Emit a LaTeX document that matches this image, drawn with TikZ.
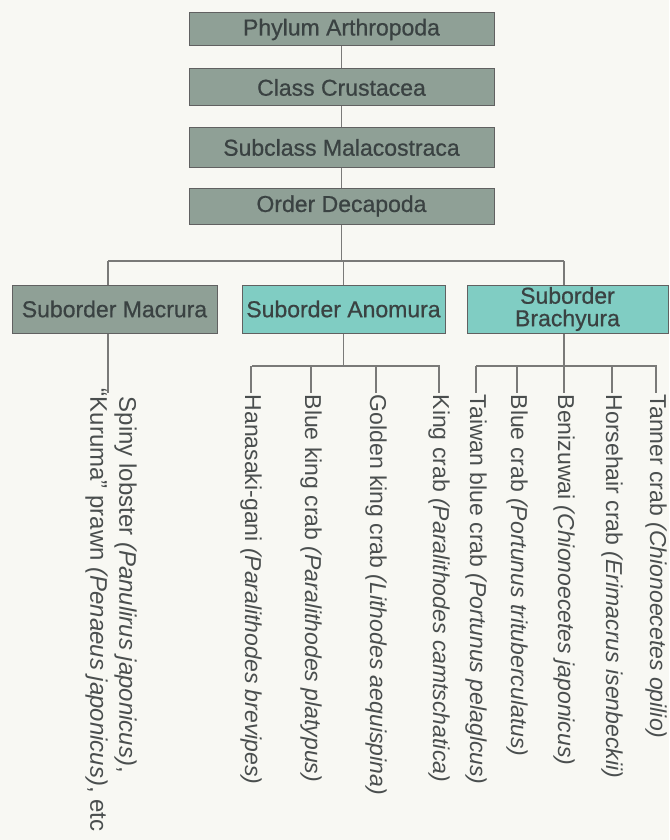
\documentclass[tikz,border=0pt]{standalone}
\usepackage{fontspec}
\setmainfont{Liberation Sans}
\newfontfamily\boxfont{Liberation Sans}[FakeBold=0.7]
\definecolor{boxgrey}{HTML}{8FA096}
\definecolor{boxteal}{HTML}{80CDC3}
\definecolor{txt}{HTML}{3A4242}
\definecolor{leaftxt}{HTML}{4A4E4E}
\definecolor{ln}{HTML}{7A7A78}
\definecolor{bg}{HTML}{F8F8F3}
\begin{document}
\begin{tikzpicture}[x=1pt,y=-1pt,
  box/.style={draw=black!62, line width=1pt, text=txt, font=\boxfont\fontsize{23}{22.5}\selectfont, inner sep=0pt, align=center},
  graybox/.style={box, fill=boxgrey},
  tealbox/.style={box, fill=boxteal},
  leaf/.style={rotate=-90, anchor=west, text=leaftxt, font=\fontsize{23}{28}\selectfont, inner sep=1.5pt, align=left},
  conn/.style={draw=ln, line width=1.1pt}]
\useasboundingbox[fill=bg] (0,0) rectangle (669,840);
% top chain
\node[graybox, minimum width=305pt, minimum height=33pt] (phy) at (341.5,29.5) {Phylum Arthropoda};
\node[graybox, minimum width=305pt, minimum height=37pt] (cls) at (341.5,87.5) {Class Crustacea};
\node[graybox, minimum width=305pt, minimum height=39pt] (sub) at (341.5,147.5) {Subclass Malacostraca};
\node[graybox, minimum width=305pt, minimum height=36pt] (ord) at (341.5,206) {Order Decapoda};
\draw[conn] (phy.south) -- (cls.north);
\draw[conn] (cls.south) -- (sub.north);
\draw[conn] (sub.south) -- (ord.north);
% suborders
\node[graybox, minimum width=205pt, minimum height=48pt] (mac) at (114.5,309) {Suborder Macrura};
\node[tealbox, minimum width=203pt, minimum height=48pt] (ano) at (343.5,309) {Suborder Anomura};
\node[tealbox, minimum width=201pt, minimum height=48pt] (bra) at (567.5,309) {Suborder\\Brachyura};
\coordinate (bL) at (108,261);
\coordinate (bR) at (564,261);
\draw[conn] (ord.south) -- (ord.south |- bL);
\draw[conn] (bL) -- (bR);
\draw[conn] (bL) -- (bL |- mac.north);
\draw[conn] (ano.north |- bL) -- (ano.north);
\draw[conn] (bR) -- (bR |- bra.north);
% Macrura leaf
\coordinate (mend) at (108,393);
\node[leaf, font=\fontsize{24}{29}\selectfont] (mq) at (111,395) {Spiny lobster \textit{(Panulirus japonicus)},\\\llap{``}Kuruma'' prawn \textit{(Penaeus japonicus)}, etc};
\draw[conn] (bL |- mac.south) -- (mend);
% Anomura leaves
\coordinate (aL) at (252,366);
\coordinate (aR) at (440,366);
\node[leaf] (a1) at (251,393) {Hanasaki-gani \textit{(Paralithodes brevipes)}};
\node[leaf] (a2) at (311,393) {Blue king crab \textit{(Paralithodes platypus)}};
\node[leaf] (a3) at (376,393) {Golden king crab \textit{(Lithodes aequispina)}};
\node[leaf] (a4) at (439,393) {King crab \textit{(Paralithodes camtschatica)}};
\draw[conn] (ano.south) -- (ano.south |- aL);
\draw[conn] (aL) -- (aR);
\foreach \n in {a1,a2,a3,a4} \draw[conn] (\n.west |- aL) -- (\n.west);
% Brachyura leaves
\coordinate (cL) at (476,366);
\coordinate (cR) at (657,366);
\node[leaf] (c1) at (476,393) {Taiwan blue crab \textit{(Portunus pelaglcus)}};
\node[leaf] (c2) at (517,393) {Blue crab \textit{(Portunus trituberculatus)}};
\node[leaf] (c3) at (564,393) {Benizuwai \textit{(Chionoecetes japonicus)}};
\node[leaf] (c4) at (612,393) {Horsehair crab \textit{(Erimacrus isenbeckii)}};
\node[leaf] (c5) at (656,393) {Tanner crab \textit{(Chionoecetes opilio)}};
\draw[conn] (bR |- bra.south) -- (bR |- cL);
\draw[conn] (cL) -- (cR);
\foreach \n in {c1,c2,c3,c4,c5} \draw[conn] (\n.west |- cL) -- (\n.west);
\end{tikzpicture}
\end{document}
